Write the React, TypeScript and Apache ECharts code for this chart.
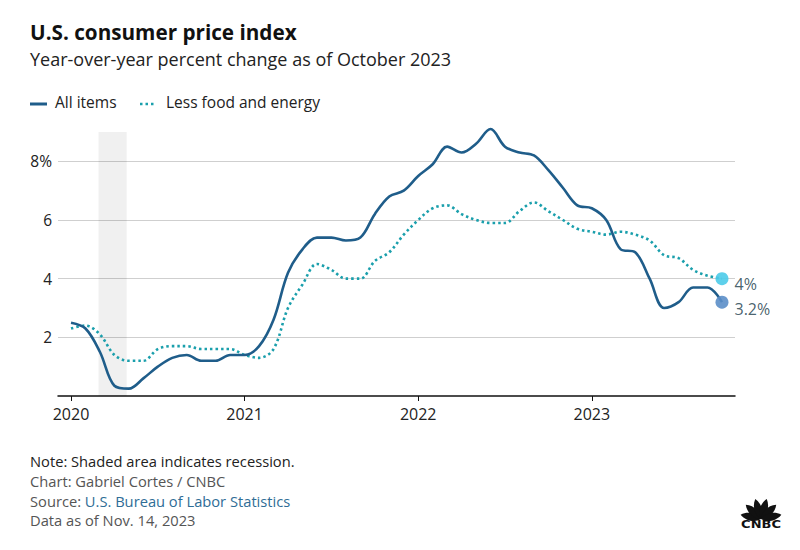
import React, { useEffect, useRef } from "react";
import * as echarts from "echarts";

// Year-over-year % change, monthly from Jan 2020 (index 0) to Oct 2023 (index 45)
const allItems = [
  2.5, 2.3, 1.5, 0.35, 0.25, 0.6, 1.0, 1.3, 1.4, 1.2, 1.2, 1.4,
  1.4, 1.7, 2.6, 4.2, 5.0, 5.4, 5.4, 5.3, 5.4, 6.2, 6.8, 7.0,
  7.5, 7.9, 8.5, 8.3, 8.6, 9.1, 8.5, 8.3, 8.2, 7.7, 7.1, 6.5,
  6.4, 6.0, 5.0, 4.9, 4.0, 3.0, 3.2, 3.7, 3.7, 3.2,
];
const lessFoodEnergy = [
  2.3, 2.4, 2.1, 1.4, 1.2, 1.2, 1.6, 1.7, 1.7, 1.6, 1.6, 1.6,
  1.4, 1.3, 1.6, 3.0, 3.8, 4.5, 4.3, 4.0, 4.0, 4.6, 4.9, 5.5,
  6.0, 6.4, 6.5, 6.2, 6.0, 5.9, 5.9, 6.3, 6.6, 6.3, 6.0, 5.7,
  5.6, 5.5, 5.6, 5.5, 5.3, 4.8, 4.7, 4.3, 4.1, 4.0,
];
const yearTickMonths = [0, 12, 24, 36];
const yearLabels = ["2020", "2021", "2022", "2023"];
const recessionMonths = [1.9, 3.85];
const seriesNames = ["All items", "Less food and energy"];

const FONT = "'Open Sans', 'Noto Sans', sans-serif";
const C_ALL = "#1f5d8a";
const C_CORE = "#1a9fac";

export default function App() {
  const ref = useRef<HTMLDivElement>(null);
  useEffect(() => {
    if (!ref.current) return;
    echarts.graphic.registerShape(
      "cnbcFeather",
      echarts.graphic.extendPath(
        "M0,0 C-3.4,-3 -3.8,-9 0,-13 C3.8,-9 3.4,-3 0,0 Z",
        {}
      )
    );
    const chart = echarts.init(ref.current, null, { renderer: "svg" });
    const toPts = (arr: number[]) => arr.map((v, i) => [i, v]);
    const lastIdx = allItems.length - 1;
    const featherAngles = [-78, -47, -16, 16, 47, 78];

    const option: any = {
      animation: false,
      backgroundColor: "#ffffff",
      textStyle: { fontFamily: FONT },
      grid: { left: 58, right: 65, top: 132, bottom: 154 },
      xAxis: {
        type: "value",
        min: -0.9,
        max: 45.9,
        axisLine: { show: true, onZero: false, lineStyle: { color: "#111", width: 1.5 } },
        axisTick: {
          show: true,
          customValues: yearTickMonths,
          length: 5,
          lineStyle: { color: "#111", width: 1 },
        },
        axisLabel: {
          customValues: yearTickMonths,
          formatter: (v: number) => yearLabels[yearTickMonths.indexOf(v)] ?? "",
          margin: 10,
          fontSize: 16,
          color: "#222",
          fontFamily: FONT,
        },
        splitLine: { show: false },
      },
      yAxis: {
        type: "value",
        min: 0,
        max: 9,
        interval: 2,
        axisLine: { show: false },
        axisTick: { show: false },
        axisLabel: {
          formatter: (v: number) => (v === 8 ? "8%" : v === 0 || v > 8 ? "" : String(v)),
          showMaxLabel: false,
          margin: 6,
          fontSize: 15.5,
          color: "#222",
          fontFamily: FONT,
        },
        splitLine: {
          show: true,
          showMinLine: false,
          showMaxLine: false,
          lineStyle: { color: "#cfcfcf", width: 1 },
        },
      },
      series: [
        {
          name: seriesNames[0],
          type: "line",
          data: toPts(allItems),
          smooth: 0.35,
          symbol: "none",
          clip: false,
          z: 4,
          lineStyle: { color: C_ALL, width: 2.6 },
          markArea: {
            silent: true,
            itemStyle: { color: "rgba(0,0,0,0.06)" },
            data: [[{ xAxis: recessionMonths[0], yAxis: 0 }, { xAxis: recessionMonths[1], yAxis: 9 }]],
          },
        },
        {
          name: seriesNames[1],
          type: "line",
          data: toPts(lessFoodEnergy),
          smooth: 0.35,
          symbol: "none",
          clip: false,
          z: 3,
          lineStyle: { color: C_CORE, width: 2.6, type: [2.5, 3] },
        },
        {
          type: "scatter",
          data: [[lastIdx, lessFoodEnergy[lastIdx]]],
          symbolSize: 13,
          z: 6,
          itemStyle: { color: "#4ccbe9", opacity: 0.9 },
          label: {
            show: true,
            position: "right",
            distance: 6,
            offset: [0, 5],
            formatter: (p: any) => p.value[1] + "%",
            fontSize: 16,
            color: "#34505c",
            fontFamily: FONT,
          },
        },
        {
          type: "scatter",
          data: [[lastIdx, allItems[lastIdx]]],
          symbolSize: 13,
          z: 6,
          itemStyle: { color: "#5b8ec8", opacity: 0.9 },
          label: {
            show: true,
            position: "right",
            distance: 6,
            offset: [0, 7],
            formatter: (p: any) => p.value[1] + "%",
            fontSize: 16,
            color: "#34505c",
            fontFamily: FONT,
          },
        },
      ],
      graphic: [
        {
          type: "text",
          left: 30,
          top: 21,
          style: {
            text: "U.S. consumer price index",
            font: `bold 20.7px ${FONT}`,
            fill: "#111",
          },
        },
        {
          type: "text",
          left: 30,
          top: 50,
          style: {
            text: "Year-over-year percent change as of October 2023",
            font: `18px ${FONT}`,
            fill: "#222",
          },
        },
        {
          type: "line",
          shape: { x1: 30, y1: 104, x2: 47, y2: 104 },
          style: { stroke: C_ALL, lineWidth: 3 },
        },
        {
          type: "text",
          left: 55,
          top: 94,
          style: { text: seriesNames[0], font: `15.5px ${FONT}`, fill: "#222" },
        },
        {
          type: "line",
          shape: { x1: 140, y1: 104, x2: 154, y2: 104 },
          style: { stroke: C_CORE, lineWidth: 2.6, lineDash: [2.5, 3] },
        },
        {
          type: "text",
          left: 166,
          top: 94,
          style: { text: seriesNames[1], font: `15.5px ${FONT}`, fill: "#222" },
        },
        {
          type: "text",
          left: 30,
          top: 453,
          style: { text: "Note: Shaded area indicates recession.", font: `14.7px ${FONT}`, fill: "#222" },
        },
        {
          type: "text",
          left: 30,
          top: 473,
          style: { text: "Chart: Gabriel Cortes / CNBC", font: `14.7px ${FONT}`, fill: "#555" },
        },
        {
          type: "text",
          left: 30,
          top: 493,
          style: {
            text: "{g|Source: }{b|U.S. Bureau of Labor Statistics}",
            font: `14.7px ${FONT}`,
            rich: {
              g: { fill: "#555", font: `14.7px ${FONT}` },
              b: { fill: "#2f6d96", font: `14.7px ${FONT}` },
            },
          },
        },
        {
          type: "text",
          left: 30,
          top: 512,
          style: { text: "Data as of Nov. 14, 2023", font: `14.7px ${FONT}`, fill: "#555" },
        },
        {
          type: "group",
          x: 761,
          y: 519,
          children: featherAngles.map((a) => ({
            type: "cnbcFeather",
            x: 0,
            y: 0,
            rotation: (-a * Math.PI) / 180,
            scaleX: 1.4,
            scaleY: 1.6,
            style: { fill: "#111" },
          })),
        },
        {
          type: "text",
          x: 761,
          y: 525,
          scaleX: 1.3,
          style: {
            text: "CNBC",
            font: `bold 10px 'DejaVu Sans', sans-serif`,
            fill: "#111",
            align: "center",
            verticalAlign: "middle",
          },
        },
      ],
    };
    chart.setOption(option);
    return () => chart.dispose();
  }, []);
  return (
    <div
      ref={ref}
      style={{ position: "fixed", left: 0, top: 0, width: 800, height: 550, background: "#fff" }}
    />
  );
}
